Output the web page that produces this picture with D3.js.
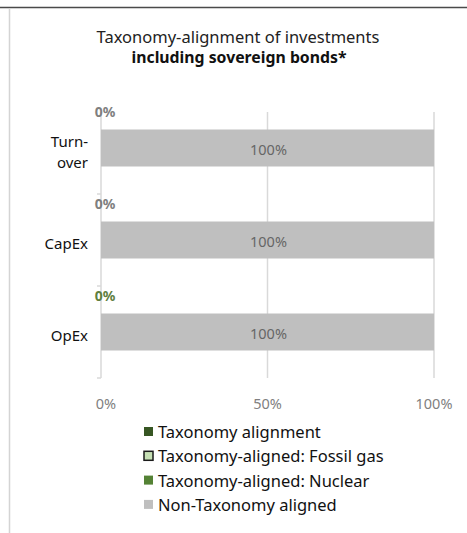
<!DOCTYPE html>
<html><head><meta charset="utf-8">
<script src="https://cdn.jsdelivr.net/npm/d3@7"></script>
<style>body{margin:0;background:#fff}svg{display:block;font-family:"Noto Sans",sans-serif}</style>
</head><body><svg id="c" width="467" height="533"></svg>
<script>
const categories = ["Turnover", "CapEx", "OpEx"];
const categoryLabels = [["Turn-", "over"], ["CapEx"], ["OpEx"]];
const alignedValues = [0, 0, 0];
const nonAlignedValues = [100, 100, 100];
const xTicks = [0, 50, 100];
const legendItems = ["Taxonomy alignment", "Taxonomy-aligned: Fossil gas", "Taxonomy-aligned: Nuclear", "Non-Taxonomy aligned"];
const legendColors = ["#375623", "#c6e0b4", "#548235", "#bfbfbf"];
const legendStrokes = [null, "#1a1a1a", null, null];
const alignedLabelColors = ["#7f7f7f", "#7f7f7f", "#5f7f3f"];

const svg = d3.select("#c");
// frame
svg.append("line").attr("x1",0).attr("x2",467).attr("y1",7.5).attr("y2",7.5).attr("stroke","#4a4a4a").attr("stroke-width",1.5);
svg.append("line").attr("x1",9.5).attr("x2",9.5).attr("y1",8).attr("y2",533).attr("stroke","#d4d4d4").attr("stroke-width",1.5);

// title
svg.append("text").attr("x",238).attr("y",43).attr("text-anchor","middle").attr("font-size",16.5).attr("fill","#222").text("Taxonomy-alignment of investments");
svg.append("text").attr("x",239).attr("y",63).attr("text-anchor","middle").attr("font-size",15.8).attr("font-weight","bold").attr("fill","#111").text("including sovereign bonds*");

const x = d3.scaleLinear().domain([0,100]).range([101,434]);
const y = d3.scaleBand().domain(categories).range([102,378]).paddingInner(0).paddingOuter(0);
const barH = 37;

// gridlines
svg.append("g").selectAll("line").data(xTicks.slice(1)).join("line")
  .attr("x1",d=>x(d)).attr("x2",d=>x(d)).attr("y1",112).attr("y2",378)
  .attr("stroke","#d9d9d9").attr("stroke-width",1.5);

// y axis
svg.append("line").attr("x1",x(0)).attr("x2",x(0)).attr("y1",112).attr("y2",378).attr("stroke","#d9d9d9").attr("stroke-width",1.5);
const bounds = categories.slice(1).map(c=>y(c)).concat([y.range()[1]]);
svg.append("g").selectAll("line").data(bounds).join("line")
  .attr("x1",x(0)-4).attr("x2",x(0)).attr("y1",d=>d).attr("y2",d=>d).attr("stroke","#d9d9d9").attr("stroke-width",1.5);

// bars
const cy = c => y(c) + y.bandwidth()/2;
svg.append("g").selectAll("rect").data(categories).join("rect")
  .attr("x",x(0)).attr("width",(c,i)=>x(nonAlignedValues[i])-x(0))
  .attr("y",c=>cy(c)-barH/2).attr("height",barH).attr("fill","#bfbfbf");
// bar labels
svg.append("g").selectAll("text").data(categories).join("text")
  .attr("x",(c,i)=>x(nonAlignedValues[i]/2)+1).attr("y",c=>cy(c)+7)
  .attr("text-anchor","middle").attr("font-size",14.5).attr("fill","#666")
  .text((c,i)=>nonAlignedValues[i]+"%");
// aligned labels
svg.append("g").selectAll("text").data(categories).join("text")
  .attr("x",(c,i)=>x(alignedValues[i])+4).attr("y",c=>cy(c)-31)
  .attr("text-anchor","middle").attr("font-size",14).attr("font-weight","bold")
  .attr("fill",(c,i)=>alignedLabelColors[i])
  .text((c,i)=>alignedValues[i]+"%");

// category labels (one text per line)
const catLines = [];
categories.forEach((c,i)=>categoryLabels[i].forEach((t,j)=>catLines.push({c, t, j, n: categoryLabels[i].length})));
svg.append("g").selectAll("text").data(catLines).join("text")
  .attr("x",88).attr("text-anchor","end").attr("font-size",15).attr("fill","#111")
  .attr("y",d=>cy(d.c)+9 - (d.n-1)*10.5 + d.j*21).text(d=>d.t);

// x axis labels
svg.append("g").selectAll("text").data(xTicks).join("text")
  .attr("x",d=>x(d)+(d===0?5:0)).attr("y",409).attr("text-anchor","middle")
  .attr("font-size",14.5).attr("fill","#808080").text(d=>d+"%");

// legend
const lg = svg.append("g").selectAll("g").data(legendItems).join("g")
  .attr("transform",(d,i)=>`translate(144,${432+i*24.3})`);
lg.append("rect").attr("x",0).attr("y",-5).attr("width",9).attr("height",9)
  .attr("fill",(d,i)=>legendColors[i])
  .attr("stroke",(d,i)=>legendStrokes[i]||"none").attr("stroke-width",1.5);
lg.append("text").attr("x",14).attr("y",6).attr("font-size",16.5).attr("fill","#111").text(d=>d);
</script></body></html>
